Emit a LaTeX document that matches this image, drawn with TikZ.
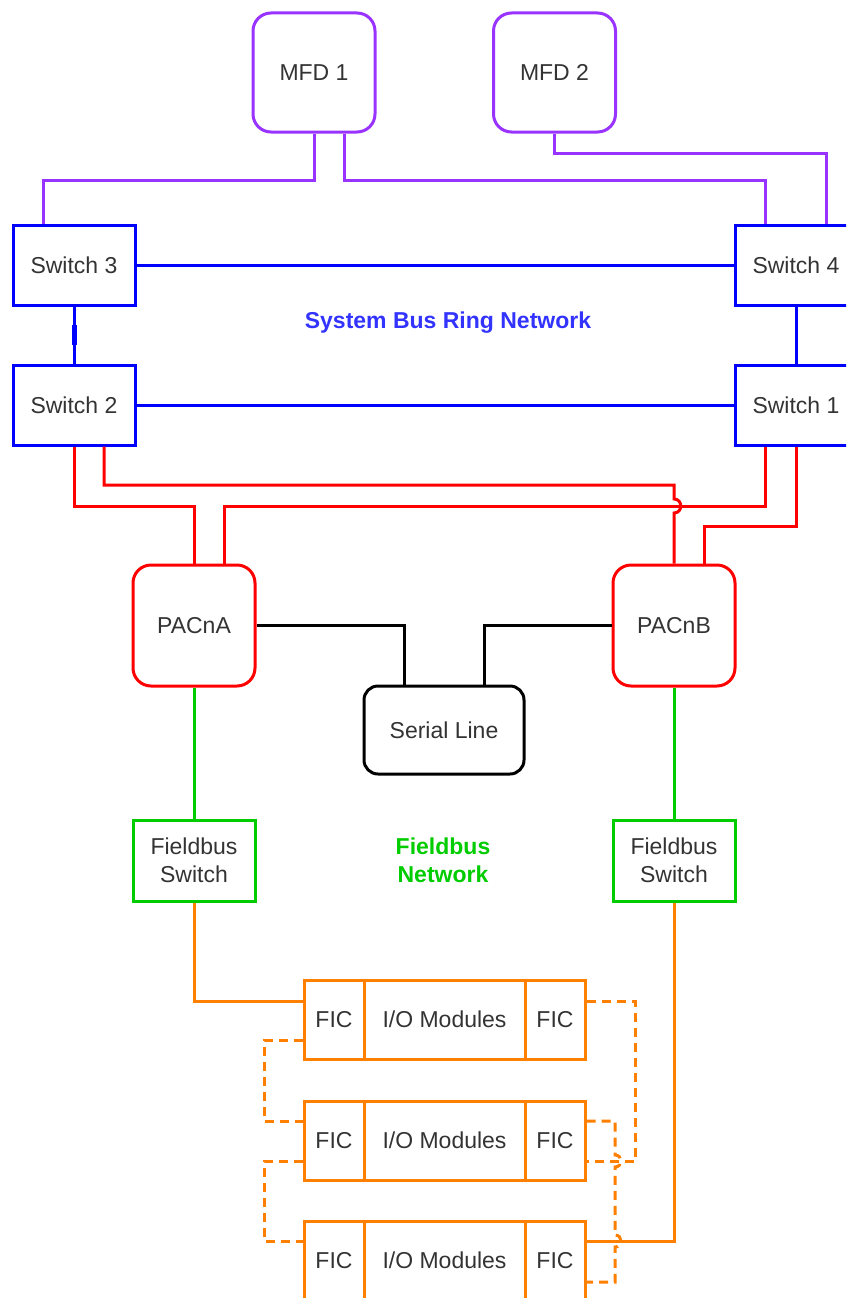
\documentclass[tikz,border=0pt]{standalone}
\usepackage{fontspec}
\setmainfont{Liberation Sans}
\usetikzlibrary{calc}
\definecolor{txt}{HTML}{333333}
\definecolor{mfdc}{HTML}{9933FF}
\definecolor{busblue}{HTML}{0000FF}
\definecolor{buslabel}{HTML}{3333FF}
\definecolor{pacred}{HTML}{FF0000}
\definecolor{fbgreen}{HTML}{00CC00}
\definecolor{ioorange}{HTML}{FF8000}
\begin{document}
\begin{tikzpicture}[x=1pt,y=-1pt,
  base/.style={draw, line width=3pt, text=txt, font=\fontsize{23}{28}\selectfont,
    inner sep=0pt, align=center},
  mfdbox/.style={base, draw=mfdc, rounded corners=18pt, minimum width=122pt, minimum height=119pt},
  switchbox/.style={base, draw=busblue, minimum width=122pt, minimum height=80pt},
  pacbox/.style={base, draw=pacred, rounded corners=18pt, minimum width=122pt, minimum height=121pt},
  serialbox/.style={base, draw=black, rounded corners=14pt, minimum width=160pt, minimum height=88pt},
  fbbox/.style={base, draw=fbgreen, minimum width=122pt, minimum height=81pt},
  ficbox/.style={base, draw=ioorange, minimum width=60pt, minimum height=79pt},
  iobox/.style={base, draw=ioorange, minimum width=161pt, minimum height=79pt},
  mfdline/.style={draw=mfdc, line width=3pt},
  busline/.style={draw=busblue, line width=3pt},
  pacline/.style={draw=pacred, line width=3pt},
  serline/.style={draw=black, line width=3pt},
  fbline/.style={draw=fbgreen, line width=3pt},
  ioline/.style={draw=ioorange, line width=3pt},
  ioloop/.style={ioline, dash pattern=on 9pt off 6pt},
  netlabel/.style={font=\fontsize{23}{28}\selectfont\bfseries, align=center, inner sep=0pt}
]
\clip (0,0) rectangle (846,1298);

% displays
\node[mfdbox] (mfd1) at (314,72.5) {MFD 1};
\node[mfdbox] (mfd2) at (554.5,72.5) {MFD 2};

% system bus switches
\node[switchbox] (sw3) at (74,265) {Switch 3};
\node[switchbox] (sw4) at (796,265) {Switch 4};
\node[switchbox] (sw2) at (74,405) {Switch 2};
\node[switchbox] (sw1) at (796,405) {Switch 1};
\node[netlabel, text=buslabel] (buslbl) at (448,323) {System Bus Ring Network};

% controllers
\node[pacbox] (pacA) at (194,625.5) {PACnA};
\node[pacbox] (pacB) at (674,625.5) {PACnB};
\node[serialbox] (serial) at (444,730) {Serial Line};

% fieldbus
\node[fbbox] (fbA) at (194,860.5) {Fieldbus\\Switch};
\node[fbbox] (fbB) at (674,860.5) {Fieldbus\\Switch};
\node[netlabel, text=fbgreen] (fblbl) at (443,860) {Fieldbus\\Network};

% I/O racks
\foreach \r/\y in {1/1019.5, 2/1140.5, 3/1260.5} {
  \node[ficbox] (f\r a) at (334,\y) {FIC};
  \node[iobox]  (io\r)  at (444.5,\y) {I/O Modules};
  \node[ficbox] (f\r b) at (555,\y) {FIC};
}

% MFD links
\draw[mfdline] (mfd1.south) -- (mfd1.south |- 0,180) -| ([xshift=-31pt]sw3.north);
\draw[mfdline] ([xshift=30pt]mfd1.south) -- ([xshift=30pt]mfd1.south |- 0,180) -| ([xshift=-31pt]sw4.north);
\draw[mfdline] (mfd2.south) -- (mfd2.south |- 0,153) -| ([xshift=30pt]sw4.north);

% ring
\draw[busline] (sw3.east) -- (sw4.west);
\draw[busline] (sw2.east) -- (sw1.west);
\draw[busline] (sw3.south) -- (sw2.north);
\draw[busline] (sw4.south) -- (sw1.north);
\draw[busline, line width=5pt] ($(sw3.south)!0.33!(sw2.north)$) -- ($(sw3.south)!0.67!(sw2.north)$);

% controller uplinks
\draw[pacline] (sw2.south) -- (sw2.south |- 0,506) -| (pacA.north);
\draw[pacline] ([xshift=30pt]sw2.south) -- ([xshift=30pt]sw2.south |- 0,485) -| (pacB.north |- 0,499)
  .. controls (683,499) and (683,513) .. (pacB.north |- 0,513) -- (pacB.north);
\draw[pacline] ([xshift=-31pt]sw1.south) -- ([xshift=-31pt]sw1.south |- 0,506) -| ([xshift=30pt]pacA.north);
\draw[pacline] (sw1.south) -- (sw1.south |- 0,526) -| ([xshift=30pt]pacB.north);

% serial line
\draw[serline] (pacA.east) -| ([xshift=-40pt]serial.north);
\draw[serline] (pacB.west) -| ([xshift=40pt]serial.north);

% fieldbus drops
\draw[fbline] (pacA.south) -- (fbA.north);
\draw[fbline] (pacB.south) -- (fbB.north);
\draw[ioline] (fbA.south) |- (f1a.west |- 0,1001);
\draw[ioline] (fbB.south) |- (f3b.east |- 0,1241);

% redundant FIC loops
\draw[ioloop] (f1b.east |- 0,1001) -| (635,1161) -- (f2b.east |- 0,1161);
\draw[ioloop] (f2b.east |- 0,1121) -- (615,1121) -- (615,1155)
  .. controls (623,1155) and (623,1167) .. (615,1167) -- (615,1235)
  .. controls (623,1235) and (623,1247) .. (615,1247) -- (615,1282) -- (f3b.east |- 0,1282);
\draw[ioloop] (f1a.west |- 0,1040) -| (264,1121) -- (f2a.west |- 0,1121);
\draw[ioloop] (f2a.west |- 0,1161) -| (264,1241) -- (f3a.west |- 0,1241);
\end{tikzpicture}
\end{document}
